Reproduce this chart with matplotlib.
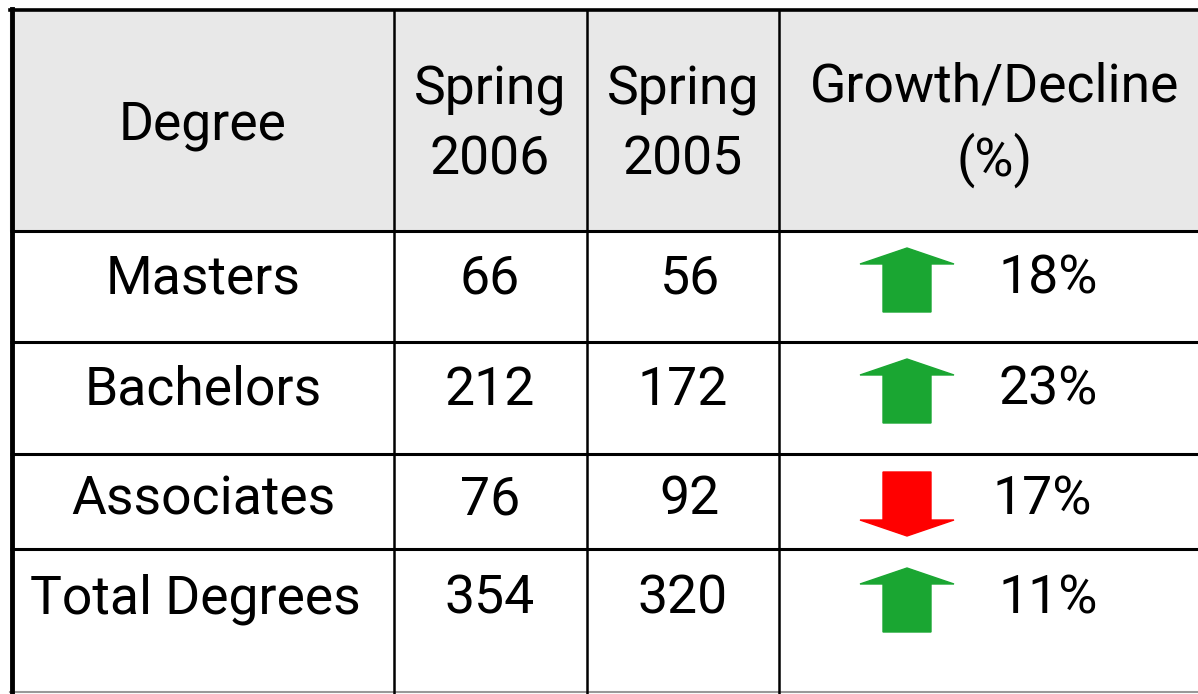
import matplotlib.pyplot as plt
from matplotlib.patches import Polygon, Rectangle

plt.rcParams['font.family'] = ['Roboto', 'DejaVu Sans']

# ========== data ==========
degrees = ["Masters", "Bachelors", "Associates", "Total Degrees"]
spring_2006 = [66, 212, 76, 354]
spring_2005 = [56, 172, 92, 320]
growth_pct = [18, 23, -17, 11]
headers = ["Degree", "Spring\n2006", "Spring\n2005", "Growth/Decline\n(%)"]
# ==========================

W, H = 1198, 694
col_x = [10, 394, 587, 779, 1240]        # column edges (px)
row_y = [10, 231, 342, 454, 549, 692]    # row edges (px)
row_text_y = [279, 390, 500, 599]
fs = 38.5

fig = plt.figure(figsize=(W / 100, H / 100), dpi=100)
ax = fig.add_axes([0, 0, 1, 1])
ax.set_xlim(0, W)
ax.set_ylim(H, 0)
ax.axis('off')

# header background
ax.add_patch(Rectangle((col_x[0], row_y[0]), W, row_y[1] - row_y[0], color='#e8e8e8', zorder=0))

# grid lines
for y in row_y[1:-1]:
    ax.plot([col_x[0], W], [y, y], color='black', lw=2.2, solid_capstyle='butt')
ax.plot([col_x[0], W], [row_y[0], row_y[0]], color='black', lw=2.6)
ax.plot([col_x[0], W], [row_y[-1], row_y[-1]], color='#999999', lw=1.5)
ax.plot([col_x[0] + 2, col_x[0] + 2], [row_y[0] - 1, H], color='black', lw=3.5)
for x in col_x[1:4]:
    ax.plot([x, x], [row_y[0], H], color='black', lw=1.8)

# header text
hx = [203, 490, 683, 995]
for x, t in zip(hx, headers):
    ax.text(x, 125, t, ha='center', va='center', fontsize=fs, linespacing=1.45)

# rows
for i, name in enumerate(degrees):
    y = row_text_y[i]
    ax.text(203 if i < 3 else 195, y, name, ha='center', va='center', fontsize=fs)
    ax.text(490, y, str(spring_2006[i]), ha='center', va='center', fontsize=fs)
    ax.text(683 if spring_2005[i] >= 100 else 690, y, str(spring_2005[i]), ha='center', va='center', fontsize=fs)
    g = growth_pct[i]
    ax.text(1048 if g > 0 else 1042, y, f"{abs(g)}%", ha='center', va='center', fontsize=fs)

    # arrow
    cx = 907
    y0 = y - 3
    if g > 0:
        tip, base, end = y0 - 28, y0 - 12, y0 + 36
        color = '#1aa632'
    else:
        tip, base, end = y0 + 39, y0 + 23, y0 - 25
        color = '#ff0000'
    pts = [(cx, tip), (cx + 47, base), (cx + 24, base), (cx + 24, end),
           (cx - 24, end), (cx - 24, base), (cx - 47, base)]
    ax.add_patch(Polygon(pts, closed=True, color=color, zorder=3))

fig.savefig('out.png', dpi=100)
